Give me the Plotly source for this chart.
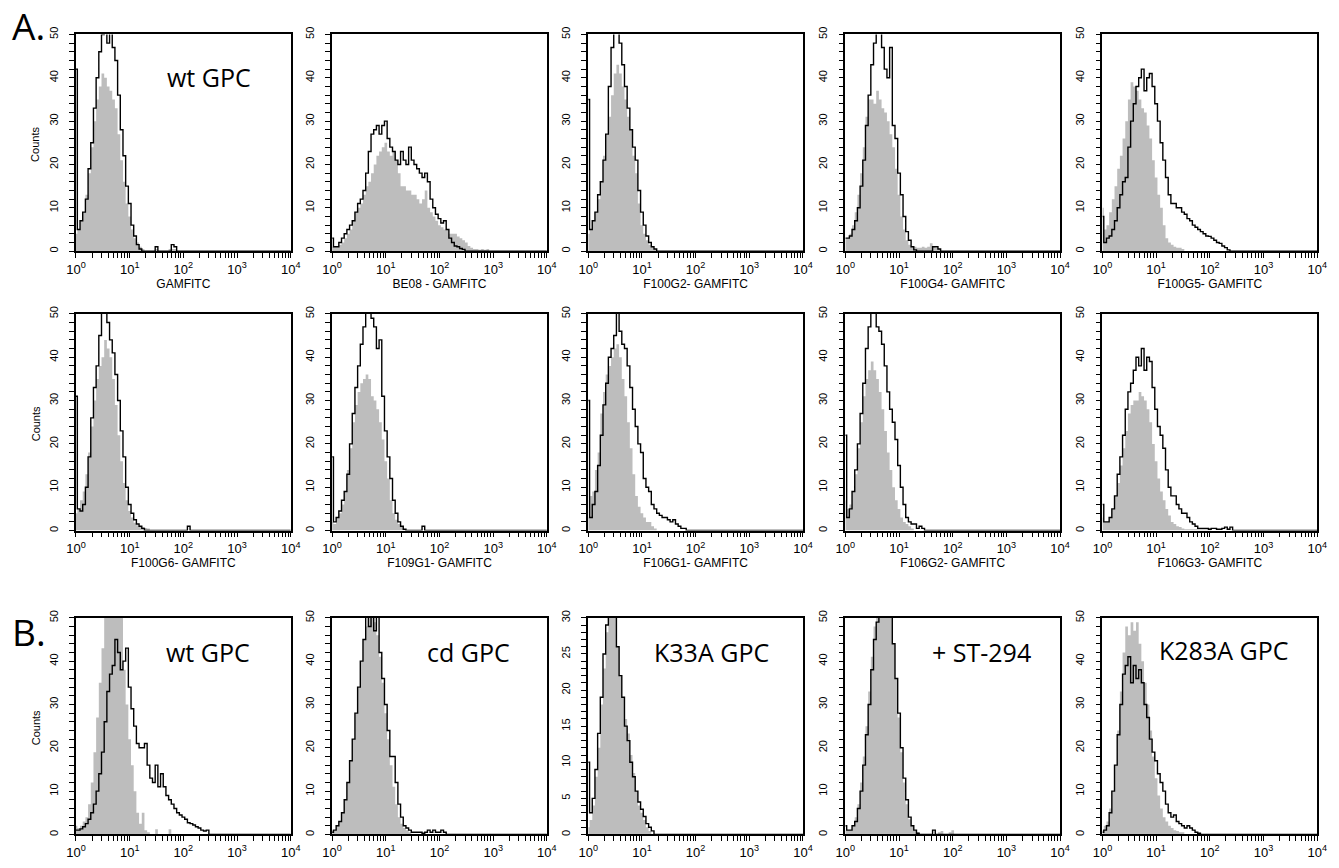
import plotly.graph_objects as go
from plotly.subplots import make_subplots

# ---------------- data (counts per 0.05-decade channel, starting at 10^0) ----------------
BIN_STEP = 0.05          # decades per channel
N_BINS = 81              # 10^0 .. 10^4

# Row A1
ctrl_A1 = [4, 5, 7, 9, 13, 18, 24, 30, 35, 38, 41, 40, 38, 37, 35, 33, 27, 21, 16, 11, 8, 5, 3, 2, 1, 0.5, 0, 0, 0, 0, 0.5, 0, 0, 0, 0, 0.5, 0.5, 0.5, 0]
stain_A1 = [42, 5, 7, 9, 12, 19, 25, 33, 40, 46, 50, 52, 48, 51, 47, 44, 36, 28, 22, 15, 11, 6, 3.5, 1.5, 0.5, 0, 0, 0, 0, 0, 1, 0, 0, 0, 0, 0, 1.5, 1, 0]
ctrl_A2 = [1, 1, 1, 1.5, 2, 3, 4, 5, 7, 9, 10, 11, 13, 15, 16, 18, 20, 22, 23, 24, 25, 23, 22, 23, 21, 18, 15, 15, 14, 14,
           13, 13, 12, 11, 12, 14, 10, 9, 8, 7, 6, 5.5, 5, 5, 4, 4, 4, 3.4, 3, 2.5, 2, 1.2, 0.8, 0.5, 0.5, 0.3, 0.5, 0.3, 0.5, 0]
stain_A2 = [3, 1, 1, 2, 3, 4, 5, 6, 7, 9, 11, 12, 14, 18, 23, 27, 28, 29, 27, 29, 30, 26, 24, 23, 21, 20, 23, 21, 20, 24,
            21, 20, 19, 18, 17, 18, 16, 12, 10, 8.5, 7.5, 6.5, 7, 5, 3, 2, 1.2, 1, 0.6, 0.4, 0]
ctrl_A3 = [4, 5, 7, 9, 12, 16, 22, 27, 31, 36, 41, 43, 41, 38, 35, 31, 28, 22, 18, 11, 6, 4, 2.5, 1.5, 1, 0.5, 0]
stain_A3 = [35, 5, 7, 9, 13, 16, 21, 27, 38, 47, 51, 52, 48, 43, 38, 33, 28, 24, 21, 14, 9, 6, 3.5, 2, 1, 0.5, 0]
ctrl_A4 = [3, 3, 4, 6, 9, 13, 18, 24, 31, 35, 35, 34, 37, 35, 33, 32, 30, 27, 24, 19, 13, 8, 5, 2.5, 1.5, 1, 1, 0.8, 0.8,
           1, 0.8, 1, 1.8, 1, 0.8, 0.5, 0]
stain_A4 = [3, 3, 3.5, 5, 7, 10, 15, 21, 29, 36, 43, 48, 51, 51, 47, 42, 40, 47, 29, 26, 18, 13, 8, 4.5, 2.5, 1, 0.3, 0,
            0, 0, 0, 0, 0, 1, 1, 0.5, 0]
ctrl_A5 = [10, 5, 6, 9, 12, 15, 19, 22, 26, 30, 35, 39, 38, 37, 35, 33, 32, 29, 26, 21, 17, 13, 10, 6, 3, 2, 1.5, 1, 0.8,
           0.8, 0.5, 0]
stain_A5 = [8, 2, 3, 3.5, 5, 7, 10, 13, 16, 17, 24, 30, 34, 38, 40, 42, 37, 40, 41, 38, 34, 30, 25, 21, 17, 13, 11, 11, 10,
            10, 9, 8.5, 7.5, 7, 6, 5.5, 5, 4.5, 4, 3.5, 3.4, 3, 2.5, 2, 1.8, 1.2, 0.8, 0.3, 0]

# Row A2
ctrl_B1 = [4, 5, 7, 9, 13, 18, 24, 30, 35, 38, 40, 44, 42, 40, 35, 29, 22, 16, 11, 7, 4.5, 3, 1.8, 1.2, 1, 0.8, 0.6, 0.5, 0]
stain_B1 = [31, 5, 4.5, 6, 10, 17, 26, 33, 38, 45, 51, 51, 48, 44, 41, 36, 30, 23, 17, 10, 6, 4, 2.5, 1.5, 1, 0.5, 0,
            0, 0, 0, 0, 0, 0, 0, 0, 0, 0, 0, 0, 0, 0, 0, 1, 0]
ctrl_B2 = [2, 1.5, 3, 4, 6, 9, 14, 19, 25, 29, 32, 34, 35, 36, 35, 31, 30, 28, 25, 21, 16, 12, 7, 4, 2.5, 1.5, 1, 0.3, 0]
stain_B2 = [17, 2, 3, 4.5, 7, 9, 13, 20, 27, 33, 38, 43, 47, 51, 51, 49, 47, 42, 44, 31, 23, 17, 12, 7, 4, 2, 1, 0.3, 0,
            0, 0, 0, 0, 0, 1, 0]
ctrl_B3 = [3, 8, 9, 14, 18, 27, 32, 36, 38, 40, 42, 43, 40, 35, 31, 25, 19, 13, 8, 5.5, 4, 3, 2, 2, 1, 0.5, 0]
stain_B3 = [30, 3, 6, 9, 15, 22, 29, 34, 40, 42, 45, 51, 46, 43, 42, 38, 33, 28, 24, 20, 18, 12, 10, 9, 6, 5, 4, 3.5, 3,
            3, 2.5, 2, 2.5, 1.5, 1, 0.5, 0.5, 0]
ctrl_B4 = [7, 5, 6, 9, 13, 19, 25, 31, 35, 37, 39, 37, 35, 32, 28, 23, 18, 14, 10, 7, 5, 3, 2, 1.5, 1, 0.5, 0]
stain_B4 = [22, 3, 5, 9, 14, 20, 27, 34, 42, 47, 51, 51, 47, 46, 43, 38, 32, 28, 25, 21, 15, 10, 6, 3, 2, 1.5, 1.5, 0.5,
            1, 0.5, 0]
ctrl_B5 = [3, 2, 2, 3, 5, 8, 11, 15, 19, 23, 27, 29, 30, 30, 32, 31, 30, 28, 25, 20, 16, 12, 9, 7, 5, 3.5, 2, 1.5, 1, 0.8,
           0.5, 0.3, 0.3, 0.3, 0.3, 0.3, 0.3, 0.3, 0.3, 0.3, 0.5, 0]
stain_B5 = [6, 2, 2, 3, 5, 8, 13, 17, 22, 28, 32, 34, 37, 40, 38, 42, 37, 40, 39, 33, 28, 24, 22, 19, 14, 10, 8, 8, 6, 5,
            4, 4, 3, 2, 1.5, 1, 0.5, 0.5, 0.5, 0.5, 0.3, 0.5, 0.5, 0.3, 0.3, 0.5, 0.8, 0.3, 0.8, 0]

# Row B
ctrl_C1 = [2, 1.5, 2, 3, 4, 7, 12, 19, 27, 35, 43, 52, 58, 62, 63, 60, 56, 51, 38, 30, 22, 16, 10, 5, 2.5, 5, 1, 0.5, 0,
           0, 1.2, 0, 0, 0, 0, 1.2, 0]
stain_C1 = [1, 1, 1.3, 1.8, 2.5, 3.5, 5, 7, 10, 14, 19, 26, 33, 37, 39, 45, 42, 38, 40, 43, 34, 29, 25, 21, 20, 20, 21,
            16, 13, 12, 16, 11, 14, 11, 9, 8, 7, 6, 5, 4.5, 4, 3.5, 2.7, 2.5, 2.2, 1.8, 1.5, 1, 0.8, 1, 0]
ctrl_C2 = [1, 1, 2, 3, 5, 8, 12, 17, 22, 28, 34, 40, 45, 48, 51, 51, 49, 46, 41, 35, 28, 22, 16, 11, 7, 4, 2.5, 1.5, 1,
           0.5, 0]
stain_C2 = [0.5, 1, 2, 3, 5, 8, 12, 17, 22, 28, 34, 40, 45, 51, 48, 51, 47, 51, 42, 36, 30, 24, 18, 18, 12, 7, 4, 2, 1.5,
            1, 0.5, 0.5, 0.5, 0.5, 0.3, 0.5, 1, 0.5, 1, 0.5, 0.5, 1, 0.5, 0]
ctrl_C3 = [1, 2, 4, 8, 12, 18, 23, 28, 31, 32, 31, 26, 22, 19, 16, 14, 11, 8.5, 6, 4, 3, 2, 1, 0.5, 0]
stain_C3 = [10, 3, 5, 9, 14, 19, 25, 29, 31, 31, 31, 26, 22, 19, 15, 13, 10, 8, 6, 4.5, 3.5, 2.5, 1.5, 1, 0.5, 0]
ctrl_C4 = [1, 1, 1, 2, 4, 7, 12, 18, 25, 33, 41, 48, 52, 55, 56, 55, 53, 50, 44, 36, 27, 19, 12, 7, 3.5, 2, 1, 0.5, 0,
           0, 0, 0, 0, 0, 0, 0.5, 0.8, 0, 0, 0.5, 1, 0]
stain_C4 = [2, 1, 1, 2, 3, 6, 10, 16, 23, 30, 38, 45, 49, 51, 51, 51, 51, 51, 44, 36, 28, 20, 13, 8, 4, 2, 1, 0.3, 0,
            0, 0, 0, 0, 1, 0]
ctrl_C5 = [1, 2, 3, 6, 10, 16, 24, 33, 42, 48, 46, 49, 47, 49, 44, 40, 35, 30, 24, 18, 13, 9, 6, 4, 3, 2, 1.5, 1, 0.8,
           0.5, 0.5, 0]
stain_C5 = [0.5, 1, 2, 5, 10, 16, 23, 30, 37, 39, 41, 35, 39, 36, 38, 35, 30, 27, 22, 19, 17, 14, 12, 10, 7, 5, 4, 4.5,
            3, 2.5, 2, 1.5, 2, 1.5, 1, 0.5, 0.3, 0]

x_titles = ["GAMFITC", "BE08 - GAMFITC", "F100G2- GAMFITC", "F100G4- GAMFITC", "F100G5- GAMFITC",
            "F100G6- GAMFITC", "F109G1- GAMFITC", "F106G1- GAMFITC", "F106G2- GAMFITC", "F106G3- GAMFITC",
            "", "", "", "", ""]
panel_labels_A = ["wt GPC"]
panel_labels_B = ["wt GPC", "cd GPC", "K33A GPC", "+ ST-294", "K283A GPC"]
y_max = [50] * 12 + [30] + [50] * 2
decade_vals = [1, 10, 100, 1000, 10000]
decade_text = ["10<sup>0</sup>", "10<sup>1</sup>", "10<sup>2</sup>", "10<sup>3</sup>", "10<sup>4</sup>"]

controls = [ctrl_A1, ctrl_A2, ctrl_A3, ctrl_A4, ctrl_A5, ctrl_B1, ctrl_B2, ctrl_B3, ctrl_B4, ctrl_B5,
            ctrl_C1, ctrl_C2, ctrl_C3, ctrl_C4, ctrl_C5]
stains = [stain_A1, stain_A2, stain_A3, stain_A4, stain_A5, stain_B1, stain_B2, stain_B3, stain_B4, stain_B5,
          stain_C1, stain_C2, stain_C3, stain_C4, stain_C5]

# ---------------- layout geometry (pixels) ----------------
W, H = 1339, 868
col_left = [67, 327, 587, 848, 1109]
col_w = 218
row_top = [27, 312, 622]
row_h = 221

channel_x = [10 ** (k * BIN_STEP) for k in range(N_BINS)]

# x ticks: every 1..9 x decade, labels only on decades
x_tickvals, x_ticktext = [], []
for d in range(4):
    for m in range(1, 10):
        x_tickvals.append(m * 10 ** d)
        x_ticktext.append(decade_text[d] if m == 1 else "")
x_tickvals.append(10 ** 4)
x_ticktext.append(decade_text[4])

fig = make_subplots(rows=3, cols=5)
FONT = "Liberation Sans, Arial, sans-serif"
LABEL_FONT = "Open Sans, sans-serif"
GRAY = "#bdbdbd"

for i in range(15):
    r, c = i // 5 + 1, i % 5 + 1
    ctrl = controls[i] + [0] * (N_BINS - len(controls[i]))
    stain = stains[i] + [0] * (N_BINS - len(stains[i]))
    fig.add_trace(go.Scatter(x=channel_x, y=ctrl, mode="lines", line=dict(width=0, shape="hvh", color=GRAY),
                             fill="tozeroy", fillcolor=GRAY, showlegend=False, hoverinfo="skip"), row=r, col=c)
    fig.add_trace(go.Scatter(x=channel_x, y=stain, mode="lines", line=dict(width=1.4, shape="hvh", color="black"),
                             showlegend=False), row=r, col=c)

    ax = "" if i == 0 else str(i + 1)
    x0 = col_left[c - 1] / W
    x1 = (col_left[c - 1] + col_w) / W
    y1 = 1 - row_top[r - 1] / H
    y0 = 1 - (row_top[r - 1] + row_h) / H
    ym = y_max[i]
    ystep = 5 if ym == 30 else 10
    yminor = ystep / 5
    y_tickvals, y_ticktext = [], []
    k = 0
    while k * yminor <= ym + 1e-9:
        v = round(k * yminor, 6)
        y_tickvals.append(v)
        y_ticktext.append(str(int(v)) if k % 5 == 0 else "")
        k += 1

    fig.layout["xaxis" + ax].update(
        type="log", range=[0, 4], domain=[x0, x1], showgrid=False, zeroline=False,
        showline=True, mirror=True, linecolor="black", linewidth=1.6,
        ticks="outside", ticklen=5, tickwidth=1.3, tickcolor="black",
        tickmode="array", tickvals=x_tickvals, ticktext=x_ticktext,
        tickfont=dict(family=FONT, size=13, color="black"), ticklabelstandoff=0,
        title=dict(text=x_titles[i], font=dict(family=FONT, size=12, color="black"), standoff=0),
        fixedrange=True,
    )
    fig.layout["yaxis" + ax].update(
        range=[0, ym], domain=[y0, y1], showgrid=False, zeroline=False,
        showline=True, mirror=True, linecolor="black", linewidth=1.6,
        ticks="outside", ticklen=5, tickwidth=1.3, tickcolor="black",
        tickmode="array", tickvals=y_tickvals, ticktext=y_ticktext, tickangle=-90,
        tickfont=dict(family=FONT, size=11, color="black"), ticklabelstandoff=7,
        fixedrange=True,
    )

annotations = []
# panel letters
annotations.append(dict(x=0, y=1 - 18 / H, text="A.", showarrow=False, xref="paper", yref="paper",
                        xanchor="left", yanchor="middle", font=dict(family=LABEL_FONT, size=37, color="black")))
annotations.append(dict(x=0, y=1 - 636 / H, text="B.", showarrow=False, xref="paper", yref="paper",
                        xanchor="left", yanchor="middle", font=dict(family=LABEL_FONT, size=37, color="black")))
# Counts labels
for r in range(3):
    annotations.append(dict(x=26 / W, y=1 - (row_top[r] + 112) / H, text="Counts", showarrow=False, xref="paper",
                            yref="paper", textangle=-90, xanchor="center", yanchor="middle",
                            font=dict(family=FONT, size=11, color="black")))
# condition labels
label_pos_A = [(202, 70)]
for txt, (px, py) in zip(panel_labels_A, label_pos_A):
    annotations.append(dict(x=px / W, y=1 - py / H, text=txt, showarrow=False, xref="paper", yref="paper",
                            xanchor="center", yanchor="middle", font=dict(family=LABEL_FONT, size=25, color="black")))
label_pos_B = [(201, 657), (465, 657), (712, 657), (986, 657), (1232, 655)]
for txt, (px, py) in zip(panel_labels_B, label_pos_B):
    annotations.append(dict(x=px / W, y=1 - py / H, text=txt, showarrow=False, xref="paper", yref="paper",
                            xanchor="center", yanchor="middle", font=dict(family=LABEL_FONT, size=25, color="black")))

fig.update_layout(width=W, height=H, margin=dict(l=0, r=0, t=0, b=0), autosize=False,
                  paper_bgcolor="white", plot_bgcolor="white", annotations=annotations,
                  font=dict(family=FONT, color="black"))

fig.write_html("out.html", config={"displayModeBar": False},
               post_script="document.body.style.margin='0px';document.body.style.overflow='hidden';")
